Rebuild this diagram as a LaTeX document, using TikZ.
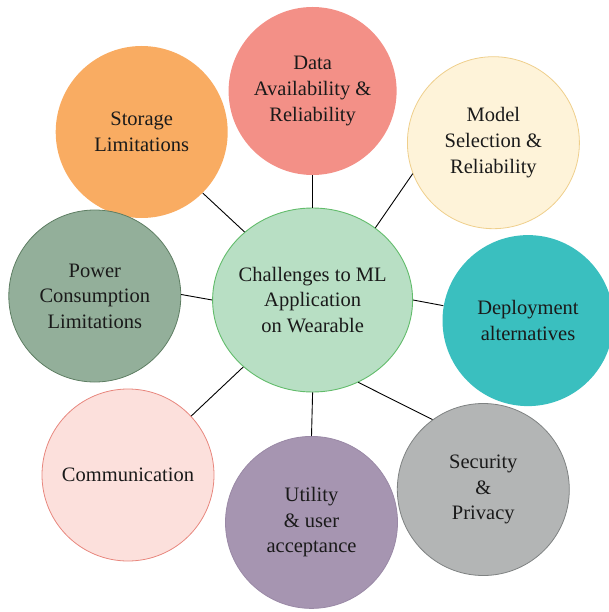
\documentclass[tikz,border=0pt]{standalone}
\usepackage{fontspec}
\setmainfont{Liberation Serif}
\usetikzlibrary{shapes.geometric}
\definecolor{cStorage}{HTML}{F9AC62}
\definecolor{cData}{HTML}{F39087}
\definecolor{cModelF}{HTML}{FEF3D9}
\definecolor{cModelD}{HTML}{EFCF8C}
\definecolor{cDeploy}{HTML}{3ABFBF}
\definecolor{cPowerF}{HTML}{93AF9A}
\definecolor{cPowerD}{HTML}{5E7E63}
\definecolor{cCommF}{HTML}{FCE0DC}
\definecolor{cCommD}{HTML}{E8877E}
\definecolor{cUtilF}{HTML}{A695B1}
\definecolor{cUtilD}{HTML}{9A89A6}
\definecolor{cSecF}{HTML}{B3B5B5}
\definecolor{cSecD}{HTML}{7F8282}
\definecolor{cMainF}{HTML}{B8DFC4}
\definecolor{cMainD}{HTML}{62BC6B}
\definecolor{cText}{HTML}{1A1A1A}
\tikzset{
  bubble/.style={circle, minimum size=172pt, inner sep=0pt, align=center,
    text=cText, font=\fontsize{20.5}{25.6}\selectfont, line width=0.8pt},
  hub/.style={ellipse, minimum width=200pt, minimum height=184pt, inner xsep=-4pt, inner ysep=0pt,
    align=center, text=cText, font=\fontsize{20.5}{25.6}\selectfont,
    fill=cMainF, draw=cMainD, line width=0.9pt},
  link/.style={draw=black, line width=0.9pt}
}
\begin{document}
\begin{tikzpicture}[x=1pt, y=-1pt]
\useasboundingbox (0,0) rectangle (609,612);
\node[hub] (main) at (312.6,300) {Challenges to ML\\Application\\on Wearable};
\node[bubble, fill=cStorage] (storage) at (141.7,132) {Storage\\Limitations};
\node[bubble, fill=cData, minimum size=168pt] (data) at (312.6,91) {Data\\Availability \&\\Reliability};
\node[bubble, fill=cModelF, draw=cModelD] (model) at (493.4,142.7) {Model\\Selection \&\\Reliability};
\node[bubble, fill=cDeploy, minimum size=171pt] (deploy) at (528,320.6) {Deployment\\alternatives};
\node[bubble, fill=cPowerF, draw=cPowerD] (power) at (94.8,296) {Power\\Consumption\\Limitations};
\node[bubble, fill=cCommF, draw=cCommD] (comm) at (128,475) {Communication};
\node[bubble, fill=cUtilF, draw=cUtilD] (util) at (311.5,522.4) {Utility\\\& user\\acceptance};
\node[bubble, fill=cSecF, draw=cSecD] (sec) at (483.3,489.5) {Security\\\&\\Privacy};
\draw[link] (main.135.3) -- (storage.-45);
\draw[link] (main.north) -- (data.south);
\draw[link] (main.49) -- (model.201.5);
\draw[link] (main.east) -- (deploy.170.3);
\draw[link] (main.-61.5) -- (sec.126.1);
\draw[link] (main.south) -- (util.north);
\draw[link] (main.224.1) -- (comm.43.7);
\draw[link] (main.west) -- (power.1);
\end{tikzpicture}
\end{document}
